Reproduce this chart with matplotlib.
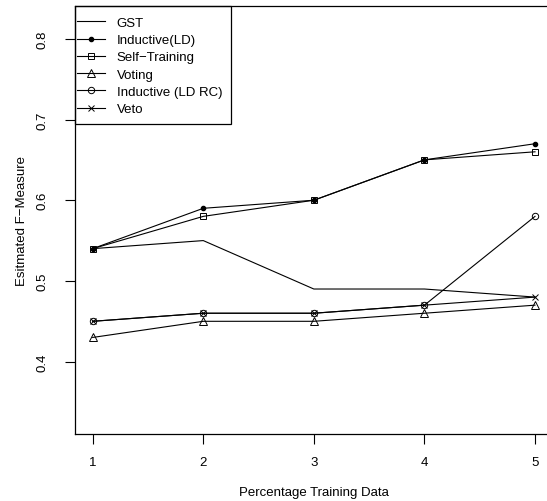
import matplotlib
matplotlib.use("Agg")
import matplotlib.pyplot as plt
from matplotlib.patches import Rectangle

plt.rcParams['font.family'] = ['Liberation Sans', 'DejaVu Sans']

# Percentage training data (x) and estimated F-measure per method
x = [1, 2, 3, 4, 5]
gst = [0.54, 0.55, 0.49, 0.49, 0.48]
inductive_ld = [0.54, 0.59, 0.60, 0.65, 0.67]
self_training = [0.54, 0.58, 0.60, 0.65, 0.66]
voting = [0.43, 0.45, 0.45, 0.46, 0.47]
inductive_ld_rc = [0.45, 0.46, 0.46, 0.47, 0.58]
veto = [0.45, 0.46, 0.46, 0.47, 0.48]

yticks = [0.4, 0.5, 0.6, 0.7, 0.8]

W, H = 547, 502
fig = plt.figure(figsize=(W / 100, H / 100), dpi=100)
ax = fig.add_axes([75 / W, 67.5 / H, 477.7 / W, 427.8 / H])

lw = 0.8
ax.plot(x, gst, color='black', lw=lw, label='GST')
ax.plot(x, inductive_ld, color='black', lw=lw, marker='o', ms=3,
        label='Inductive(LD)')
ax.plot(x, self_training, color='black', lw=lw, marker='s', ms=4.2,
        mfc='none', mew=0.7, label='Self\u2212Training')
ax.plot(x, voting, color='black', lw=lw, marker='^', ms=5.2,
        mfc='none', mew=0.7, label='Voting')
ax.plot(x, inductive_ld_rc, color='black', lw=lw, marker='o', ms=4.6,
        mfc='none', mew=0.7, label='Inductive (LD RC)')
ax.plot(x, veto, color='black', lw=lw, marker='x', ms=4.6, mew=0.7,
        label='Veto')

ax.set_xlim(0.84, 5.16)
ax.set_ylim(0.311, 0.841)
ax.set_xticks(x)
ax.set_yticks(yticks)
ax.set_xticklabels([str(v) for v in x], fontsize=9.5)
ax.set_yticklabels([f"{v:.1f}" for v in yticks], fontsize=9.5,
                   rotation=90, va='center')
ax.tick_params(direction='out', length=7, width=0.8, color='black')
ax.tick_params(axis='x', pad=9)
ax.tick_params(axis='y', pad=12)
for s in ax.spines.values():
    s.set_color('black')
    s.set_linewidth(0.9)

ax.set_xlabel('Percentage Training Data', fontsize=9.5, labelpad=13)
ax.set_ylabel('Esitmated F\u2212Measure', fontsize=9.5, labelpad=6)

# legend drawn without frame, box added by hand (R style padding)
leg = ax.legend(loc='upper left', fontsize=9.5, frameon=False,
                bbox_to_anchor=(2 / 477.7, 1 - 11 / 427.8),
                borderaxespad=0, borderpad=0, handlelength=2.1,
                handletextpad=0.9, labelspacing=0.38)
fig.canvas.draw()
bb = leg.get_window_extent()
x0, y1 = 75, H - 6.7
x1 = bb.x1 + 9
y0 = bb.y0 - 9
fig.patches.append(Rectangle((x0 / W, y0 / H), (x1 - x0) / W, (y1 - y0) / H,
                             transform=fig.transFigure, fill=False,
                             edgecolor='black', lw=0.9, zorder=5))

fig.savefig('out.png', dpi=100)
